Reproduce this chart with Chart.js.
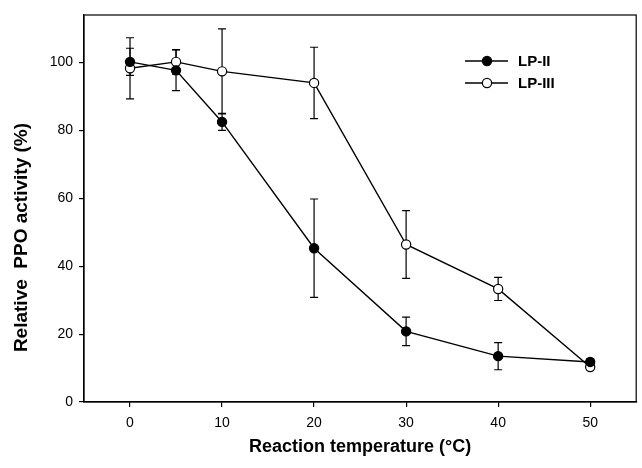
<!DOCTYPE html>
<html><head><meta charset="utf-8">
<script src="https://cdn.jsdelivr.net/npm/chart.js@4/dist/chart.umd.min.js"></script>
<style>html,body{margin:0;padding:0;background:#fff}#wrap{width:642px;height:468px}</style>
</head><body><div id="wrap"><canvas id="c" width="642" height="468"></canvas></div>
<script>
const temps = [0, 5, 10, 20, 30, 40, 50];
const lp2 = [100.2, 97.7, 82.5, 45.3, 20.8, 13.5, 11.8];
const lp2Err = [4.0, 6.0, 2.5, 14.5, 4.2, 4.0, 1.0];
const lp3 = [98.3, 100.2, 97.4, 94.0, 46.4, 33.3, 10.3];
const lp3Err = [9.0, 3.6, 12.5, 10.5, 10.0, 3.4, 0.8];
const xTicks = [0, 10, 20, 30, 40, 50];
const yTicks = [0, 20, 40, 60, 80, 100];
const seriesNames = ['LP-II', 'LP-III'];

const FONT = '"Liberation Sans", Arial, sans-serif';

const errorBars = {
  id: 'errorBars',
  beforeDatasetsDraw(chart) {
    const ctx = chart.ctx, xs = chart.scales.x, ys = chart.scales.y;
    const errs = [lp2Err, lp3Err];
    ctx.save();
    ctx.strokeStyle = '#000';
    ctx.lineWidth = 1.2;
    chart.data.datasets.forEach((ds, i) => {
      ds.data.forEach((p, j) => {
        const e = errs[i][j];
        const px = xs.getPixelForValue(p.x);
        const top = ys.getPixelForValue(p.y + e);
        const bot = ys.getPixelForValue(p.y - e);
        ctx.beginPath();
        ctx.moveTo(px, top); ctx.lineTo(px, bot);
        ctx.moveTo(px - 4, top); ctx.lineTo(px + 4, top);
        ctx.moveTo(px - 4, bot); ctx.lineTo(px + 4, bot);
        ctx.stroke();
      });
    });
    ctx.restore();
  }
};

const frame = {
  id: 'frame',
  afterDraw(chart) {
    const a = chart.chartArea, ctx = chart.ctx;
    ctx.save();
    ctx.strokeStyle = '#000';
    ctx.lineWidth = 1.2;
    ctx.strokeRect(a.left, a.top, a.right - a.left, a.bottom - a.top);
    // legend
    const items = [[487, 61, '#000'], [487, 83, '#fff']];
    items.forEach((it, i) => {
      const [cx, cy, fill] = it;
      ctx.beginPath();
      ctx.lineWidth = 1.4;
      ctx.moveTo(465, cy); ctx.lineTo(508, cy);
      ctx.stroke();
      ctx.beginPath();
      ctx.arc(cx, cy, 4.6, 0, Math.PI * 2);
      ctx.fillStyle = fill; ctx.fill();
      ctx.lineWidth = 1.2; ctx.stroke();
      ctx.fillStyle = '#000';
      ctx.font = 'bold 15px ' + FONT;
      ctx.textBaseline = 'middle';
      ctx.textAlign = 'left';
      ctx.fillText(seriesNames[i], 518, cy + 1);
    });
    ctx.restore();
  }
};

new Chart(document.getElementById('c'), {
  type: 'line',
  data: {
    datasets: [
      { label: seriesNames[0], data: temps.map((t, i) => ({x: t, y: lp2[i]})),
        borderColor: '#000', backgroundColor: '#000', borderWidth: 1.4,
        pointRadius: 4.6, pointBorderWidth: 1.2, pointBackgroundColor: '#000', pointBorderColor: '#000', tension: 0 },
      { label: seriesNames[1], data: temps.map((t, i) => ({x: t, y: lp3[i]})),
        borderColor: '#000', backgroundColor: '#fff', borderWidth: 1.4,
        pointRadius: 4.6, pointBorderWidth: 1.2, pointBackgroundColor: '#fff', pointBorderColor: '#000', tension: 0 }
    ]
  },
  options: {
    responsive: false, animation: false, maintainAspectRatio: false,
    layout: { padding: { top: 15, right: 4, left: 0, bottom: 0 } },
    plugins: { legend: { display: false }, tooltip: { enabled: false } },
    scales: {
      x: {
        type: 'linear', min: -5, max: 55,
        afterBuildTicks: s => { s.ticks = xTicks.map(v => ({value: v})); },
        afterFit: s => { s.height = 66; },
        grid: { display: true, drawOnChartArea: false, drawTicks: true, tickLength: 5, color: '#000', lineWidth: 1.2 },
        border: { display: true, color: '#000', width: 1.2 },
        ticks: { color: '#000', font: { family: FONT, size: 14 }, padding: 8, maxRotation: 0 },
        title: { display: true, text: 'Reaction temperature (\u00B0C)', color: '#000', font: { family: FONT, size: 18, weight: 'bold' }, padding: { top: 4, bottom: 10 } }
      },
      y: {
        type: 'linear', min: 0, max: 114,
        afterBuildTicks: s => { s.ticks = yTicks.map(v => ({value: v})); },
        afterFit: s => { s.width = 84; },
        grid: { display: true, drawOnChartArea: false, drawTicks: true, tickLength: 5, color: '#000', lineWidth: 1.2 },
        border: { display: true, color: '#000', width: 1.2 },
        ticks: { color: '#000', font: { family: FONT, size: 14 }, padding: 6 },
        title: { display: true, text: 'Relative  PPO activity (%)           ', color: '#000', font: { family: FONT, size: 19, weight: 'bold' }, padding: { top: 10, bottom: 4 } }
      }
    }
  },
  plugins: [errorBars, frame]
});
</script></body></html>
